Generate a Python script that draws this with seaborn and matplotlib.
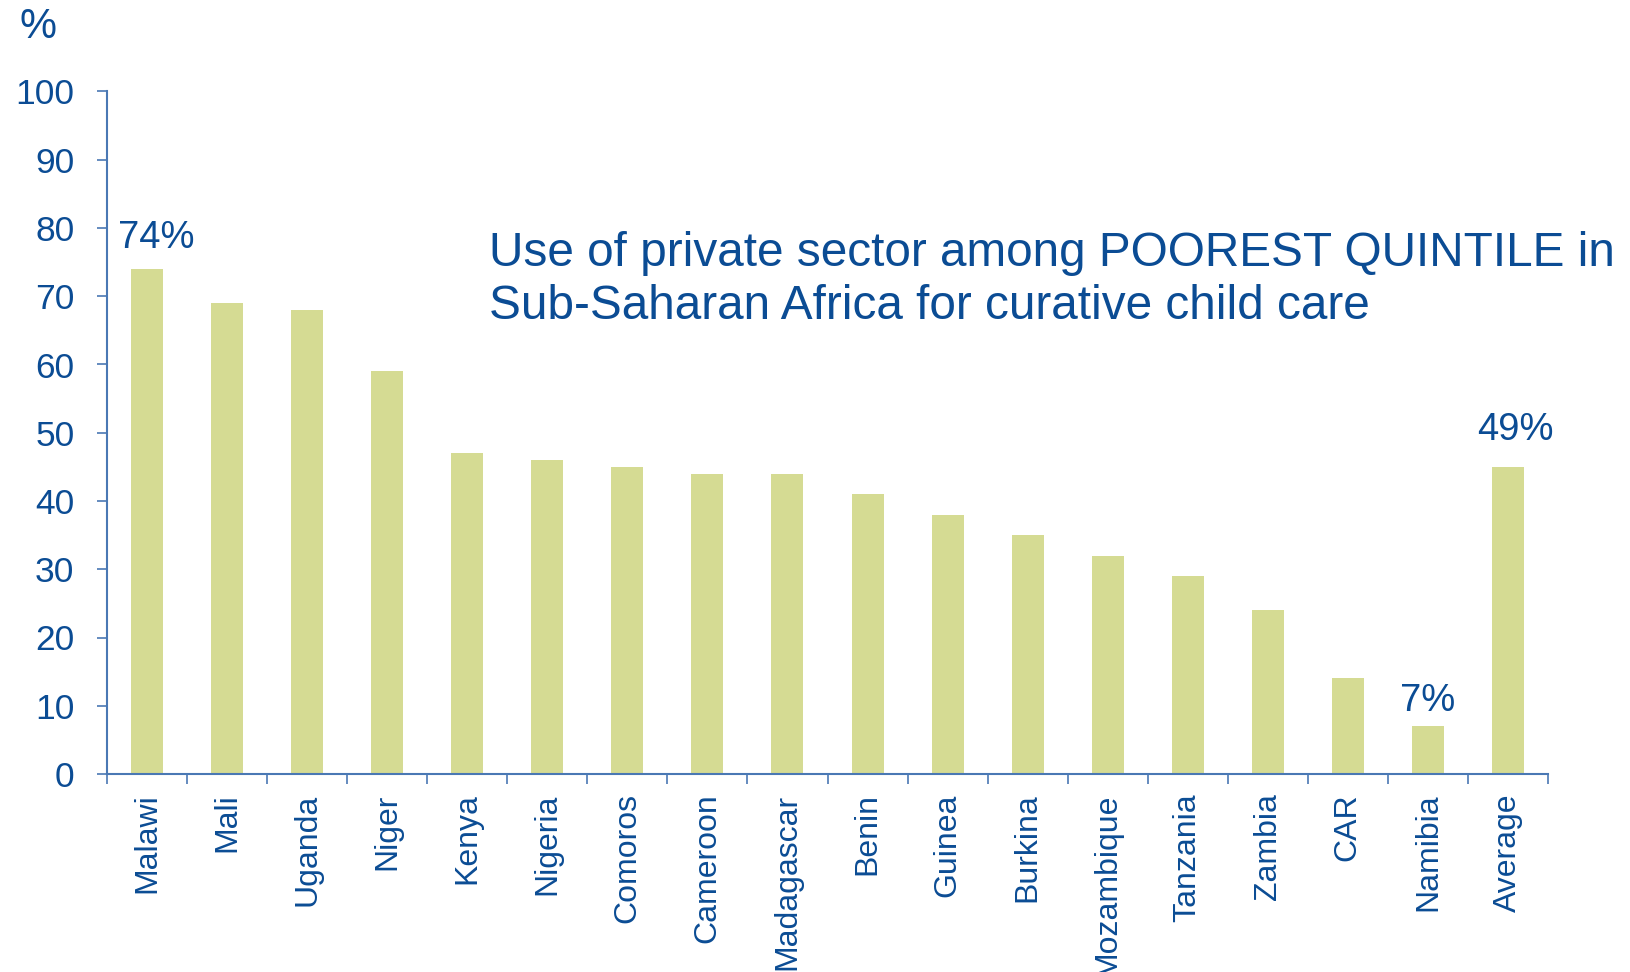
import matplotlib
matplotlib.use("Agg")
import matplotlib.pyplot as plt
import seaborn as sns
import pandas as pd
import numpy as np

countries = ["Malawi", "Mali", "Uganda", "Niger", "Kenya", "Nigeria", "Comoros",
             "Cameroon", "Madagascar", "Benin", "Guinea", "Burkina", "Mozambique",
             "Tanzania", "Zambia", "CAR", "Namibia", "Average"]
values = [74, 69, 68, 59, 47, 46, 45, 44, 44, 41, 38, 35, 32, 29, 24, 14, 7, 45]
yticks = [0, 10, 20, 30, 40, 50, 60, 70, 80, 90, 100]
label_countries = ["Malawi", "Namibia", "Average"]
label_texts = ["74%", "7%", "49%"]
label_heights = [77, 9.2, 49]
title = "Use of private sector among POOREST QUINTILE in\nSub-Saharan Africa for curative child care"

sns.set_style("white")
plt.rcParams['font.family'] = ['Liberation Sans', 'DejaVu Sans']

TEXT = "#0B4C94"
SPINE = "#4A78B4"
BAR = "#D5DB93"

df = pd.DataFrame({"country": countries, "value": values})

fig = plt.figure(figsize=(16.31, 9.72), dpi=100)
ax = fig.add_axes([107/1631, 1-774/972, (1548-107)/1631, (774-91.5)/972])

sns.barplot(data=df, x="country", y="value", color=BAR, saturation=1,
            width=0.4, ax=ax, edgecolor="none")

ax.set_xlim(-0.5, len(countries) - 0.5)
ax.set_ylim(0, 100)
ax.set_yticks(yticks)
ax.set_yticklabels([str(t) for t in yticks])
ax.set_xlabel("")
ax.set_ylabel("")

for s in ["top", "right"]:
    ax.spines[s].set_visible(False)
for s in ["left", "bottom"]:
    ax.spines[s].set_color(SPINE)
    ax.spines[s].set_linewidth(1.5)

ax.tick_params(axis="y", which="major", direction="out", length=7.5, width=1.2,
               color=SPINE, labelcolor=TEXT, labelsize=25.5, pad=16, left=True)
ax.set_xticks(np.arange(-0.5, len(countries), 1.0), minor=True)
ax.tick_params(axis="x", which="minor", direction="out", length=7.5, width=1.2,
               color=SPINE, bottom=True)
ax.tick_params(axis="x", which="major", length=0, labelcolor=TEXT, labelsize=23,
               pad=14, labelrotation=90)
for lab in ax.get_xticklabels():
    lab.set_va("top")

x_offsets = [0.11, 0.0, 0.09]
idx = {c: i for i, c in enumerate(countries)}
for c, y, txt, dx in zip(label_countries, label_heights, label_texts, x_offsets):
    ax.text(idx[c] + dx, y, txt, ha="center", va="baseline",
            fontsize=27.5, color=TEXT)

fig.text(38/1631, 1-27/972, "%", ha="center", va="center", fontsize=30, color=TEXT)
fig.text(489/1631, 1-319/972, title, ha="left", va="baseline", fontsize=34.4,
         color=TEXT, linespacing=1.22)

fig.savefig("out.png", dpi=100)
